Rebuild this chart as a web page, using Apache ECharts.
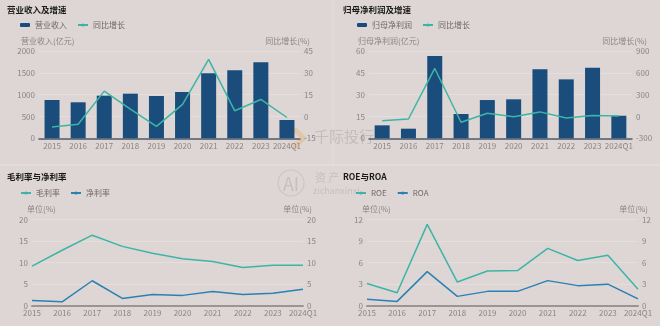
<!DOCTYPE html>
<html>
<head>
<meta charset="utf-8">
<script src="https://cdn.jsdelivr.net/npm/echarts@6/dist/echarts.min.js"></script>
<style>
  html, body { margin: 0; padding: 0; background: #ddd6d4; }
  #chart { width: 660px; height: 326px; }
</style>
</head>
<body>
<div id="chart"></div>
<script>
// Category labels shared by all four panels
const years = ['2015', '2016', '2017', '2018', '2019', '2020', '2021', '2022', '2023', '2024Q1'];

// Panel 1: revenue (100M CNY) and YoY growth (%)
const revenue = [877, 825, 976, 1022, 969, 1061, 1489, 1558, 1741, 419];
const revenueGrowth = [-7.2, -5.3, 17.4, 5.0, -6.8, 8.3, 39.2, 3.9, 11.7, -0.7];

// Panel 2: net profit attributable to parent (100M CNY) and YoY growth (%)
const netProfit = [8.9, 6.6, 56.6, 16.7, 26.3, 26.8, 47.5, 40.5, 48.5, 15.5];
const profitGrowth = [-58, -35, 660, -80, 45, -5, 63, -22, 12, 5];

// Panel 3: gross margin and net margin (%)
const grossMargin = [9.2, 12.9, 16.4, 13.8, 12.2, 10.9, 10.3, 8.9, 9.4, 9.4];
const netMargin = [1.2, 0.9, 5.8, 1.7, 2.6, 2.4, 3.3, 2.6, 2.9, 3.8];

// Panel 4: ROE and ROA (%)
const roe = [3.1, 1.8, 11.35, 3.3, 4.85, 4.9, 8.0, 6.3, 7.05, 2.3];
const roa = [0.9, 0.6, 4.75, 1.3, 2.0, 2.0, 3.5, 2.8, 3.0, 0.95];

// Axis tick ranges
const revAxis = { min: 0, max: 2000, interval: 500 };
const revGrowthAxis = { min: -15, max: 45, interval: 15 };
const profitAxis = { min: 0, max: 60, interval: 15 };
const profitGrowthAxis = { min: -300, max: 900, interval: 300 };
const marginAxis = { min: 0, max: 20, interval: 5 };
const returnAxis = { min: 0, max: 12, interval: 3 };

const FONT = '"Noto Sans CJK SC", "Noto Sans", sans-serif';
const BAR = '#1a4d7c';
const TEAL = '#3db5a6';
const BLUE = '#2b80b5';
const LABEL = '#8a8584';
const GRIDLINE = '#e4dedc';

const chart = echarts.init(document.getElementById('chart'), null, { renderer: 'canvas' });

function xAxisOf(gridIndex, boundaryGap, axisColor, axisWidth, margin) {
  return {
    type: 'category', gridIndex, data: years, boundaryGap,
    axisLine: { lineStyle: { color: axisColor, width: axisWidth } },
    axisTick: { show: false },
    axisLabel: { color: LABEL, fontSize: 8, fontFamily: FONT, margin, interval: 0 }
  };
}
function yAxisOf(gridIndex, range, position, showSplit) {
  return Object.assign({
    type: 'value', gridIndex, position,
    axisLine: { show: false }, axisTick: { show: false },
    axisLabel: { color: LABEL, fontSize: 8, fontFamily: FONT, margin: 4,
      formatter: (v) => String(v) },
    splitLine: { show: showSplit, lineStyle: { color: GRIDLINE, width: 1 } }
  }, range);
}
function nameText(x, y, text, align) {
  return { type: 'text', x, y, silent: true,
    style: { text, fill: LABEL, font: '8px ' + FONT, textAlign: align, textVerticalAlign: 'middle' } };
}
function titleOf(left, top, text) {
  return { text, left, top, padding: 0,
    textStyle: { fontSize: 8.5, fontWeight: 'bold', color: '#1a1a1a', fontFamily: FONT } };
}
function legendOf(left, top, names) {
  return { left, top, padding: 0, itemWidth: 10, itemHeight: 4, itemGap: 10,
    data: names, textStyle: { color: '#6e6968', fontSize: 8, fontFamily: FONT } };
}
function lineOf(name, data, color, xi, yi) {
  return { type: 'line', name, data, xAxisIndex: xi, yAxisIndex: yi,
    symbol: 'none', lineStyle: { color, width: 1.5 }, itemStyle: { color } };
}

const option = {
  backgroundColor: '#ddd6d4',
  animation: false,
  title: [
    titleOf(7, 6, '营业收入及增速'),
    titleOf(343, 6, '归母净利润及增速'),
    titleOf(7, 173, '毛利率与净利率'),
    titleOf(343, 173, 'ROE与ROA')
  ],
  legend: [
    legendOf(20, 21, ['营业收入', '同比增长']),
    legendOf(357, 21, ['归母净利润', '同比增长 ']),
    legendOf(20, 189, ['毛利率', '净利率']),
    legendOf(355, 189, ['ROE', 'ROA'])
  ],
  grid: [
    { left: 39, right: 360, top: 51, bottom: 187.7 },
    { left: 369, right: 28, top: 51, bottom: 187.7 },
    { left: 32, right: 357, top: 219.7, bottom: 20.3 },
    { left: 367, right: 22, top: 219.7, bottom: 20.3 }
  ],
  xAxis: [
    xAxisOf(0, true, '#4f5a66', 1.5, 4),
    xAxisOf(1, true, '#4f5a66', 1.5, 4),
    xAxisOf(2, false, '#9a9594', 2, 3),
    xAxisOf(3, false, '#9a9594', 2, 3)
  ],
  yAxis: [
    yAxisOf(0, revAxis, 'left', true),
    yAxisOf(0, revGrowthAxis, 'right', false),
    yAxisOf(1, profitAxis, 'left', true),
    yAxisOf(1, profitGrowthAxis, 'right', false),
    yAxisOf(2, marginAxis, 'left', true),
    yAxisOf(2, marginAxis, 'right', false),
    yAxisOf(3, returnAxis, 'left', true),
    yAxisOf(3, returnAxis, 'right', false)
  ],
  series: [
    { type: 'bar', name: '营业收入', data: revenue, xAxisIndex: 0, yAxisIndex: 0,
      barWidth: 15, itemStyle: { color: BAR } },
    lineOf('同比增长', revenueGrowth, TEAL, 0, 1),
    { type: 'bar', name: '归母净利润', data: netProfit, xAxisIndex: 1, yAxisIndex: 2,
      barWidth: 15, itemStyle: { color: BAR } },
    lineOf('同比增长 ', profitGrowth, TEAL, 1, 3),
    lineOf('毛利率', grossMargin, TEAL, 2, 4),
    lineOf('净利率', netMargin, BLUE, 2, 4),
    lineOf('ROE', roe, TEAL, 3, 6),
    lineOf('ROA', roa, BLUE, 3, 6)
  ],
  graphic: [
    // faint panel separators
    { type: 'line', silent: true, shape: { x1: 0, y1: 165, x2: 660, y2: 165 },
      style: { stroke: '#e6e0de', lineWidth: 1 } },
    { type: 'line', silent: true, shape: { x1: 333, y1: 0, x2: 333, y2: 165 },
      style: { stroke: '#e3dddb', lineWidth: 1 } },
    // axis names
    nameText(21, 41, '营业收入(亿元)', 'left'),
    nameText(310, 41, '同比增长(%)', 'right'),
    nameText(358, 41, '归母净利润(亿元)', 'left'),
    nameText(647, 41, '同比增长(%)', 'right'),
    nameText(27, 209, '单位(%)', 'left'),
    nameText(312, 209, '单位(%)', 'right'),
    nameText(362, 209, '单位(%)', 'left'),
    nameText(648, 209, '单位(%)', 'right'),
    // watermark
    { type: 'polygon', silent: true,
      shape: { points: [[290, 128], [297, 128], [307, 138], [297, 148], [290, 148], [300, 138]] },
      style: { fill: 'rgba(232,180,120,0.45)' } },
    { type: 'text', silent: true, x: 314, y: 136,
      style: { text: '千际投行', fill: 'rgba(190,184,182,0.85)', font: '15px ' + FONT,
        textVerticalAlign: 'middle' } },
    { type: 'circle', silent: true, shape: { cx: 291, cy: 183, r: 13 },
      style: { fill: 'none', stroke: 'rgba(200,194,192,0.8)', lineWidth: 1.2 } },
    { type: 'text', silent: true, x: 291, y: 184,
      style: { text: 'AI', fill: 'rgba(195,189,187,0.9)', font: '18px ' + FONT,
        textAlign: 'center', textVerticalAlign: 'middle' } },
    { type: 'text', silent: true, x: 315, y: 178,
      style: { text: '资 产', fill: 'rgba(195,189,187,0.9)', font: '11px ' + FONT,
        textVerticalAlign: 'middle' } },
    { type: 'text', silent: true, x: 313, y: 191,
      style: { text: 'zichanxinxi', fill: 'rgba(195,189,187,0.9)', font: '9px ' + FONT,
        textVerticalAlign: 'middle' } }
  ]
};

chart.setOption(option);
</script>
</body>
</html>
